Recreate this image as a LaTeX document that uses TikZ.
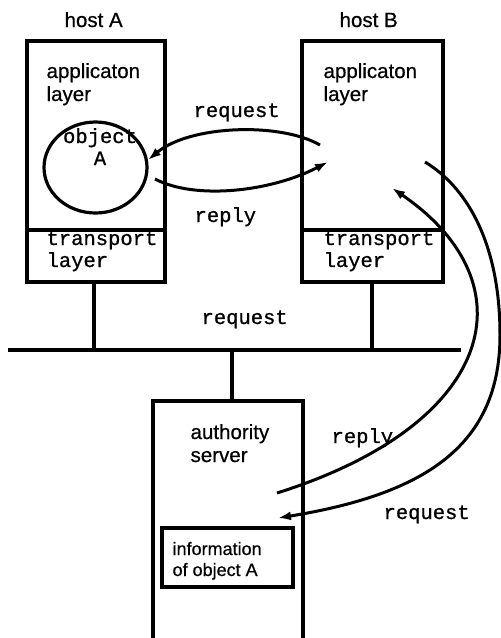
\documentclass[tikz,border=0pt]{standalone}
\usepackage{fontspec}
\setmainfont[FakeBold=0.6]{Liberation Sans}
\newfontfamily\monofont[FakeBold=0.9]{Liberation Mono}
\usetikzlibrary{arrows.meta,shapes.geometric}

\begin{document}
\begin{tikzpicture}[x=1pt,y=-1pt,
  line width=3.2pt,
  hostbox/.style={draw, line width=3.2pt, inner sep=0pt},
  sanslabel/.style={inner sep=0pt, anchor=base west, align=left,
    font=\fontsize{20.5}{23}\selectfont},
  smalllabel/.style={inner sep=0pt, anchor=base west, align=left,
    font=\fontsize{18}{21}\selectfont},
  monolabel/.style={inner sep=0pt, anchor=base west, align=left,
    font=\monofont\fontsize{20.5}{22}\selectfont},
  flow/.style={line width=3pt, -{Latex[length=13pt,width=9pt]}},
]
\useasboundingbox (0,0) rectangle (501,638);

% --- hosts ---------------------------------------------------------
\node[hostbox, minimum width=138, minimum height=241] (hostA) at (96,161.5) {};
\node[hostbox, minimum width=141, minimum height=241] (hostB) at (372.5,161.5) {};
\draw (hostA.west |- 0,230) -- (hostA.east |- 0,230);
\draw (hostB.west |- 0,230) -- (hostB.east |- 0,230);

% multi-line labels are anchored at the baseline of their last line
\node[sanslabel] (hostAlbl) at (63,27) {host A};
\node[sanslabel] (hostBlbl) at (338,27) {host B};
\node[sanslabel] (appA) at (45,101) {applicaton\\layer};
\node[sanslabel] (appB) at (322,101) {applicaton\\layer};
\node[monolabel] (trA) at (45,267) {transport\\layer};
\node[monolabel] (trB) at (322,267) {transport\\layer};

% object A inside the application layer of host A
\node[draw, ellipse, inner sep=0pt, minimum width=103, minimum height=91] (objA) at (95.5,167.5) {};
\node[monolabel, anchor=base, align=center] (objAlbl) at (100,165) {object\\A};

% --- network bus -----------------------------------------------------
\coordinate (busL) at (8,350);
\coordinate (busR) at (461,350);
\coordinate (tapA) at (94,350);
\coordinate (tapB) at (372,350);
\draw (busL) -- (busR);
\draw (tapA |- hostA.south) -- (tapA);
\draw (tapB |- hostB.south) -- (tapB);
\node[monolabel] (busReq) at (200,324) {request};

% --- authority server (runs off the bottom edge) -------------------
\node[hostbox, minimum width=150, minimum height=260] (auth) at (228,531) {};
\coordinate (tapC) at (232,350);
\draw (tapC) -- (tapC |- auth.north);
\node[sanslabel] (authlbl) at (189,462) {authority\\server};
\node[hostbox, minimum width=131, minimum height=59] (info) at (227.5,557.5) {};
\node[smalllabel] (infolbl) at (171,576) {information\\of object A};

% --- messages between host A and host B ------------------------------
\coordinate (rqS) at (320,145);
\coordinate (rqE) at (148,160);
\draw[flow] (rqS) .. controls (280,122) and (190,125) .. (rqE);
\node[monolabel] (rqLbl) at (192,117) {request};

\coordinate (rpS) at (155,179);
\coordinate (rpE) at (328,162);
\draw[flow] (rpS) .. controls (195,200) and (270,192) .. (rpE);
\node[monolabel] (rpLbl) at (193,222) {reply};

% --- messages between host B and the authority server ---------------
\coordinate (arqS) at (425,162);
\coordinate (arqM) at (500,335);
\coordinate (arqE) at (278,518);
\draw[flow] (arqS) .. controls (468,188) and (500,245) .. (arqM)
               .. controls (500,445) and (426,494) .. (arqE);
\node[monolabel] (arqLbl) at (382,519) {request};

\coordinate (arpS) at (277,493);
\coordinate (arpE) at (392,188);
\draw[flow] (arpS) .. controls (496,424) and (532,284) .. (arpE);
\node[monolabel] (arpLbl) at (330,443) {reply};
\end{tikzpicture}
\end{document}
